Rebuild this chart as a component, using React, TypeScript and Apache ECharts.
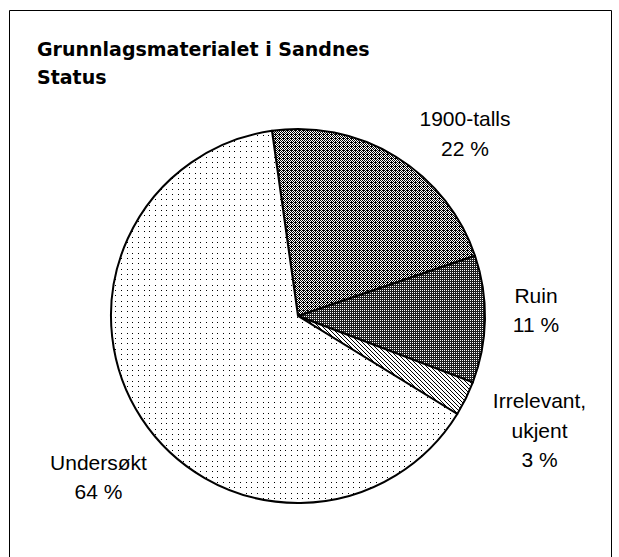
import React, { useEffect, useRef } from 'react';
import * as echarts from 'echarts';

// ---- data ----
const titleLines = ['Grunnlagsmaterialet i Sandnes', 'Status'];
const categories = ['1900-talls', 'Ruin', 'Irrelevant, ukjent', 'Undersøkt'];
const shares = [22, 11, 3, 64];

// ---- layout (label block centres, in px) ----
const labelAnchors: number[][] = [
  [465, 133.5],
  [536, 310],
  [539.5, 430],
  [98.5, 477],
];

type Ctx = CanvasRenderingContext2D;

function makeTile(w: number, h: number, ink: string, draw: (ctx: Ctx) => void) {
  const c = document.createElement('canvas');
  c.width = w;
  c.height = h;
  const ctx = c.getContext('2d') as Ctx;
  ctx.fillStyle = '#ffffff';
  ctx.fillRect(0, 0, w, h);
  ctx.fillStyle = ink;
  draw(ctx);
  return { image: c.toDataURL(), repeat: 'repeat', imageWidth: w, imageHeight: h } as any;
}

function buildPatterns() {
  // 1900-talls: medium grey checker
  const grey = makeTile(4, 4, '#000000', (ctx) => {
    const px = [
      [0, 0], [2, 0],
      [1, 1], [3, 1],
      [0, 2], [2, 2], [3, 2],
      [1, 3], [3, 3],
    ];
    px.forEach(([x, y]) => ctx.fillRect(x, y, 1, 1));
  });
  // Ruin: dark, black with white dots
  const dark = makeTile(2, 2, '#1e1e1e', (ctx) => {
    ctx.fillRect(0, 0, 2, 2);
    ctx.fillStyle = '#ffffff';
    ctx.fillRect(0, 0, 1, 1);
  });
  // Irrelevant: thin diagonal hatch
  const hatch = makeTile(4, 4, '#000000', (ctx) => {
    for (let i = 0; i < 4; i++) ctx.fillRect(i, i, 1, 1);
  });
  // Undersøkt: sparse dots
  const dots = makeTile(17, 16, '#000000', (ctx) => {
    [2, 8, 13].forEach((x) => [2, 7, 13].forEach((y) => ctx.fillRect(x, y, 1, 1)));
  });
  return [grey, dark, hatch, dots];
}

export default function App() {
  const ref = useRef<HTMLDivElement>(null);

  useEffect(() => {
    if (!ref.current) return;
    const chart = echarts.init(ref.current, null, { renderer: 'svg' });
    const patterns = buildPatterns();

    chart.setOption({
      animation: false,
      backgroundColor: '#ffffff',
      title: {
        text: titleLines.join('\n'),
        left: 37,
        top: 35,
        padding: 0,
        textStyle: {
          fontFamily: '"DejaVu Sans", sans-serif',
          fontWeight: 'bold',
          fontSize: 19,
          lineHeight: 28,
          color: '#000000',
        },
      },
      graphic: [
        {
          type: 'rect',
          silent: true,
          z: -10,
          shape: { x: 9.5, y: 10.5, width: 602, height: 560 },
          style: { fill: 'none', stroke: '#000000', lineWidth: 1 },
        },
      ],
      series: [
        {
          type: 'pie',
          center: [298, 316],
          radius: 187,
          startAngle: 98,
          clockwise: true,
          silent: true,
          avoidLabelOverlap: false,
          emphasis: { disabled: true },
          itemStyle: { borderColor: '#000000', borderWidth: 2 },
          label: {
            show: true,
            position: 'outside',
            formatter: (p: any) =>
              String(p.name).replace(', ', ',\n') + '\n' + Math.round(p.percent) + ' %',
            fontFamily: '"Liberation Sans", Arial, sans-serif',
            fontSize: 21,
            lineHeight: 29.5,
            color: '#000000',
            align: 'center',
          },
          labelLine: { show: false },
          labelLayout: (p: any) => ({
            x: labelAnchors[p.dataIndex][0],
            y: labelAnchors[p.dataIndex][1],
            align: 'center',
            verticalAlign: 'middle',
          }),
          data: categories.map((name, i) => ({
            name,
            value: shares[i],
            itemStyle: { color: patterns[i] },
          })),
        },
      ],
    });

    return () => {
      chart.dispose();
    };
  }, []);

  return (
    <div
      ref={ref}
      style={{ position: 'absolute', left: 0, top: 0, width: 619, height: 557 }}
    />
  );
}
